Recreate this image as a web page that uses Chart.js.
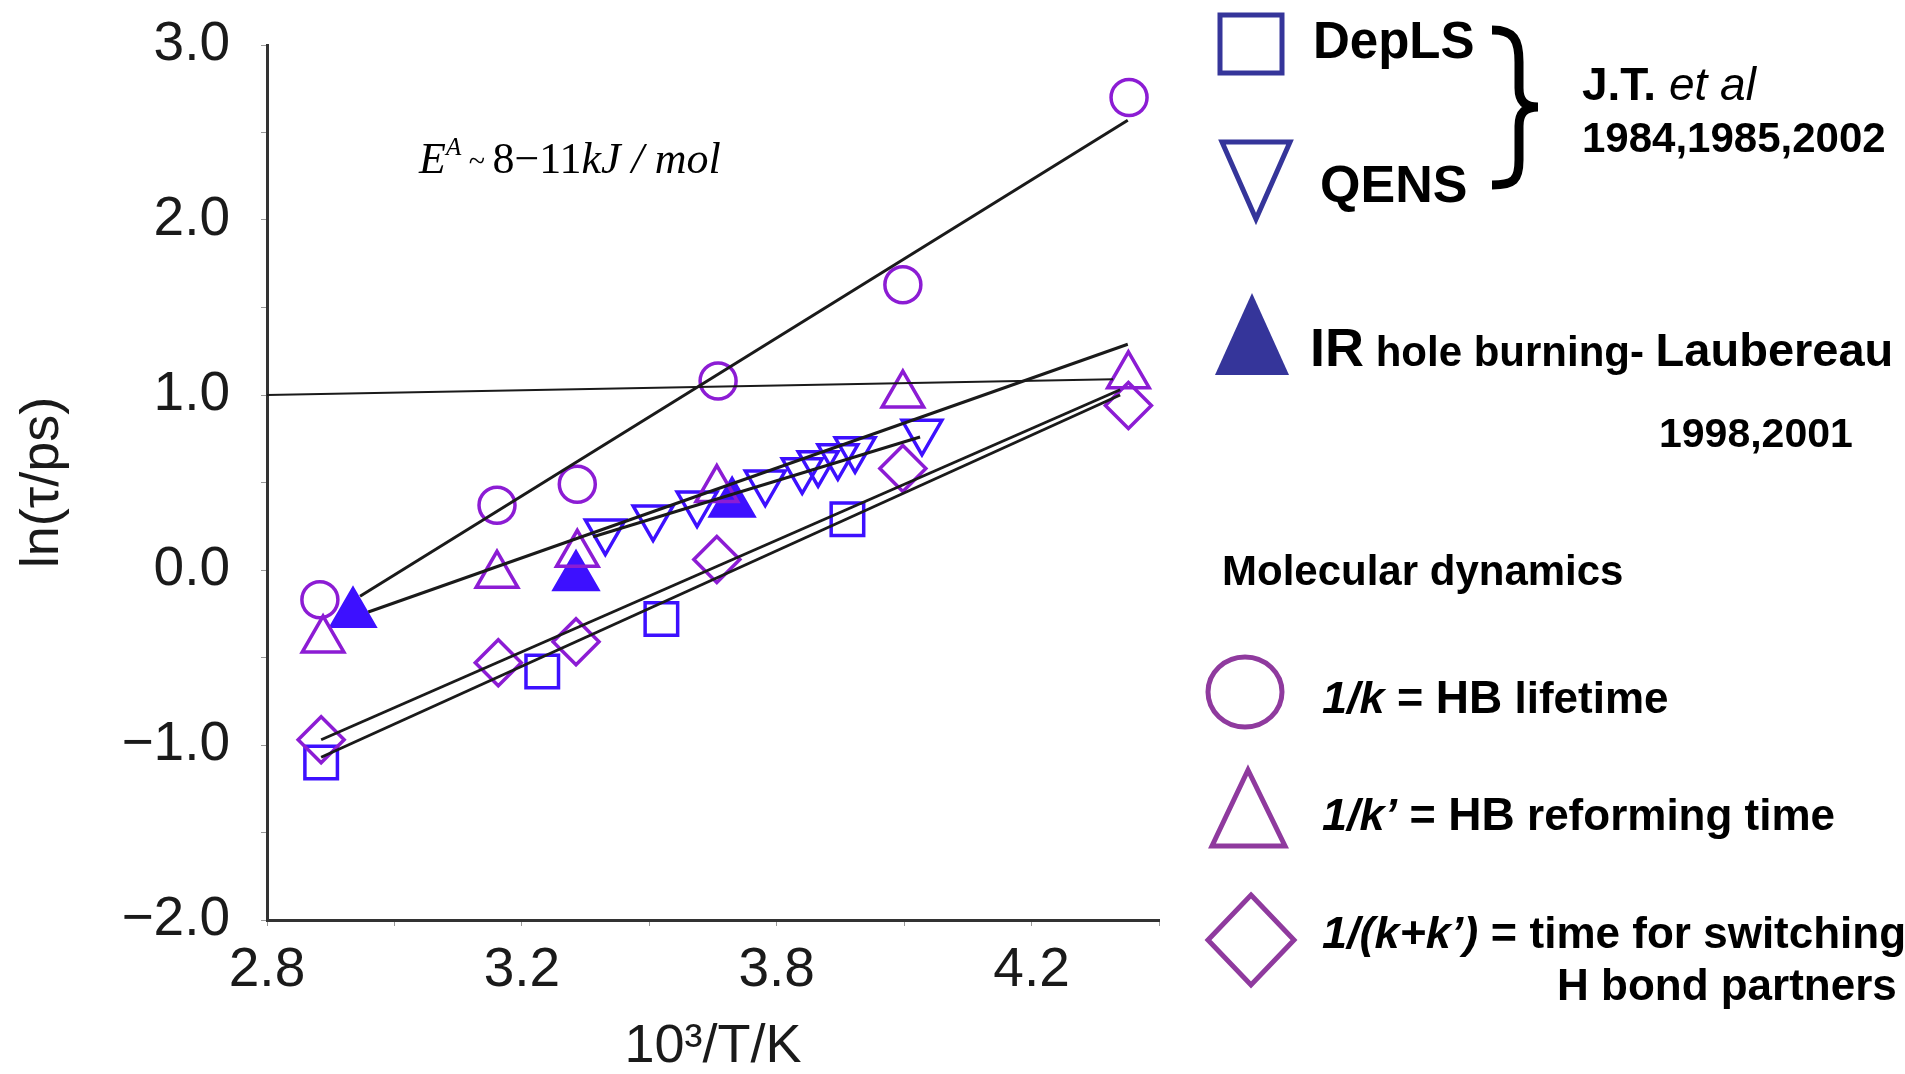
<!DOCTYPE html>
<html>
<head>
<meta charset="utf-8">
<script src="https://cdn.jsdelivr.net/npm/chart.js@4.4.1/dist/chart.umd.min.js"></script>
<style>
  html, body { margin: 0; padding: 0; background: #fff; overflow: hidden; }
  canvas { display: block; }
</style>
</head>
<body>
<canvas id="c" width="1905" height="1074"></canvas>
<script>
// x values are positions along the printed axis (its ticks read 2.8, 3.2, 3.8, 4.2)
const xTickValues = [2.8, 3.2, 3.6, 4.0];
const xTickLabels = ['2.8', '3.2', '3.8', '4.2'];
const yTickValues = [3, 2, 1, 0, -1, -2];
const yTickLabels = ['3.0', '2.0', '1.0', '0.0', '−1.0', '−2.0'];

// molecular dynamics
const hbLifetime = [[2.883, -0.17], [3.161, 0.37], [3.287, 0.49], [3.508, 1.08], [3.798, 1.63], [4.153, 2.70]];
const hbReform   = [[2.888, -0.40], [3.161, -0.03], [3.287, 0.09], [3.506, 0.46], [3.798, 1.00], [4.152, 1.11]];
const hbSwitch   = [[2.885, -0.97], [3.163, -0.53], [3.285, -0.41], [3.506, 0.06], [3.798, 0.58], [4.152, 0.94]];
// experiments
const depls  = [[2.885, -1.10], [3.232, -0.58], [3.419, -0.28], [3.711, 0.29]];
const qens   = [[3.331, 0.22], [3.406, 0.30], [3.475, 0.38], [3.582, 0.50], [3.640, 0.57], [3.665, 0.61], [3.696, 0.65], [3.723, 0.69], [3.828, 0.79]];
const irHole = [[2.935, -0.25], [3.285, -0.04], [3.530, 0.38]];

// straight fit lines (end points)
const fitLifetime = [[2.946, -0.15], [4.151, 2.57]];
const fitReform   = [[2.959, -0.24], [4.151, 1.29]];
const fitQens     = [[3.312, 0.19], [3.825, 0.76]];
const fitSwitch   = [[2.885, -0.97], [4.139, 1.03]];
const fitDepls    = [[2.885, -1.07], [4.139, 1.00]];
const refLine     = [[2.8, 1.00], [4.128, 1.09]];

const PURPLE = '#8c1cd4';
const BLUE = '#3d10ff';
const LEG_BLUE = '#35359a';
const LEG_PURPLE = '#8f3a9e';
const SANS = "'Liberation Sans', Arial, Helvetica, sans-serif";
const SERIF = "'Liberation Serif', 'Times New Roman', serif";

const pts = arr => arr.map(p => ({ x: p[0], y: p[1] }));

function markers(label, arr, style, color, radius, extra) {
  return Object.assign({
    label, data: pts(arr), showLine: false, pointStyle: style,
    pointRadius: radius, pointBorderColor: color, pointBackgroundColor: 'rgba(0,0,0,0)',
    pointBorderWidth: 3.5, order: 2
  }, extra || {});
}
function fit(arr, width) {
  return { label: 'fit', data: pts(arr), showLine: true, pointRadius: 0, borderColor: '#1a1a1a',
           borderWidth: width || 3, fill: false, order: 1 };
}

// legend rows at the right and the note in the plot
const legendRows = [
  { x: 1313, y: 58,  parts: [['DepLS', 'bold 51px ' + SANS]] },
  { x: 1582, y: 100, parts: [['J.T. ', 'bold 46px ' + SANS], ['et al', 'italic 46px ' + SANS]] },
  { x: 1582, y: 152, parts: [['1984,1985,2002', 'bold 42px ' + SANS]] },
  { x: 1320, y: 202, parts: [['QENS', 'bold 52px ' + SANS]] },
  { x: 1310, y: 366, parts: [['IR', 'bold 54px ' + SANS], [' hole burning- ', 'bold 42px ' + SANS], ['Laubereau', 'bold 47px ' + SANS]] },
  { x: 1659, y: 447, parts: [['1998,2001', 'bold 41px ' + SANS]] },
  { x: 1222, y: 585, parts: [['Molecular dynamics', 'bold 42px ' + SANS]] },
  { x: 1322, y: 713, parts: [['1/k', 'italic bold 45px ' + SANS], [' = ', 'bold 45px ' + SANS], ['HB', 'bold 46px ' + SANS], [' lifetime', 'bold 44px ' + SANS]] },
  { x: 1322, y: 830, parts: [['1/k’', 'italic bold 45px ' + SANS], [' = ', 'bold 45px ' + SANS], ['HB', 'bold 46px ' + SANS], [' reforming time', 'bold 44px ' + SANS]] },
  { x: 1322, y: 948, parts: [['1/(k+k’)', 'italic bold 45px ' + SANS], [' = ', 'bold 45px ' + SANS], ['time for switching', 'bold 44px ' + SANS]] },
  { x: 1557, y: 1000, parts: [['H bond partners', 'bold 44px ' + SANS]] },
  { x: 419, y: 173, parts: [['E', 'italic 44px ' + SERIF], ['A', 'italic 25px ' + SERIF, -18], [' ~ ', '30px ' + SERIF, -2], ['8−11', '44px ' + SERIF], ['kJ', 'italic 44px ' + SERIF], [' / ', 'italic 44px ' + SERIF], ['mol', 'italic 44px ' + SERIF]] }
];

function drawRun(ctx, row) {
  let x = row.x;
  row.parts.forEach(p => {
    ctx.font = p[1];
    ctx.fillText(p[0], x, row.y + (p[2] || 0));
    x += ctx.measureText(p[0]).width;
  });
}

const sideLegend = {
  id: 'sideLegend',
  afterDraw(chart) {
    const ctx = chart.ctx;
    ctx.save();
    ctx.lineWidth = 5;
    ctx.lineJoin = 'miter';

    ctx.strokeStyle = LEG_BLUE;
    ctx.strokeRect(1220, 15, 62, 58);
    ctx.beginPath();
    ctx.moveTo(1222, 142); ctx.lineTo(1290, 142); ctx.lineTo(1256, 219); ctx.closePath();
    ctx.stroke();
    ctx.fillStyle = LEG_BLUE;
    ctx.beginPath();
    ctx.moveTo(1252, 293); ctx.lineTo(1289, 375); ctx.lineTo(1215, 375); ctx.closePath();
    ctx.fill();

    ctx.strokeStyle = LEG_PURPLE;
    ctx.beginPath();
    ctx.ellipse(1245, 692, 37, 35, 0, 0, Math.PI * 2);
    ctx.stroke();
    ctx.beginPath();
    ctx.moveTo(1248, 770); ctx.lineTo(1285, 846); ctx.lineTo(1212, 846); ctx.closePath();
    ctx.stroke();
    ctx.beginPath();
    ctx.moveTo(1251, 895); ctx.lineTo(1294, 940); ctx.lineTo(1251, 985); ctx.lineTo(1208, 940); ctx.closePath();
    ctx.stroke();

    // brace
    ctx.strokeStyle = '#000';
    ctx.lineWidth = 9;
    ctx.beginPath();
    ctx.moveTo(1492, 30);
    ctx.bezierCurveTo(1514, 30, 1519, 40, 1519, 62);
    ctx.lineTo(1519, 88);
    ctx.bezierCurveTo(1519, 100, 1524, 107, 1538, 107);
    ctx.bezierCurveTo(1524, 107, 1519, 114, 1519, 126);
    ctx.lineTo(1519, 160);
    ctx.bezierCurveTo(1519, 180, 1514, 185, 1492, 185);
    ctx.stroke();

    ctx.fillStyle = '#000';
    ctx.textBaseline = 'alphabetic';
    ctx.textAlign = 'left';
    legendRows.forEach(r => drawRun(ctx, r));
    ctx.restore();
  }
};

new Chart(document.getElementById('c'), {
  type: 'scatter',
  data: {
    datasets: [
      fit(fitLifetime), fit(fitReform), fit(fitQens), fit(fitSwitch), fit(fitDepls), fit(refLine, 2),
      markers('1/k', hbLifetime, 'circle', PURPLE, 18),
      markers("1/k'", hbReform, 'triangle', PURPLE, 24),
      markers("1/(k+k')", hbSwitch, 'rectRot', PURPLE, 23),
      markers('DepLS', depls, 'rect', BLUE, 23),
      markers('QENS', qens, 'triangle', BLUE, 23, { pointRotation: 180 }),
      markers('IR hole burning', irHole, 'triangle', BLUE, 25, { pointBackgroundColor: BLUE })
    ]
  },
  options: {
    responsive: false,
    animation: false,
    devicePixelRatio: 1,
    layout: { padding: { left: 0, top: 45, right: 746, bottom: 0 } },
    plugins: { legend: { display: false }, tooltip: { enabled: false } },
    scales: {
      x: {
        type: 'linear', min: 2.8, max: 4.2,
        afterFit: s => { s.height = 154; },
        border: { display: true, color: '#333', width: 3 },
        grid: { drawOnChartArea: false, drawTicks: true, tickLength: 6, color: '#999' },
        ticks: {
          stepSize: 0.2, autoSkip: false, maxRotation: 0, padding: 12,
          color: '#1a1a1a', font: { family: SANS, size: 55 },
          callback: v => {
            const i = xTickValues.findIndex(t => Math.abs(t - v) < 1e-6);
            return i >= 0 ? xTickLabels[i] : '';
          }
        },
        title: {
          display: true, text: '10³/T/K', color: '#1a1a1a',
          font: { family: SANS, size: 54, lineHeight: 1 }, padding: 0
        }
      },
      y: {
        type: 'linear', min: -2, max: 3,
        afterFit: s => { s.width = 267; },
        border: { display: true, color: '#333', width: 3 },
        grid: { drawOnChartArea: false, drawTicks: true, tickLength: 6, color: '#999' },
        ticks: {
          stepSize: 0.5, autoSkip: false, padding: 31,
          color: '#1a1a1a', font: { family: SANS, size: 55, lineHeight: 0.5 },
          callback: v => {
            const i = yTickValues.findIndex(t => Math.abs(t - v) < 1e-6);
            return i >= 0 ? yTickLabels[i] : '';
          }
        },
        title: {
          display: true, text: 'ln(τ/ps)', color: '#1a1a1a',
          font: { family: SANS, size: 54, lineHeight: 1.2 }, padding: { top: 11, bottom: 0 }
        }
      }
    }
  },
  plugins: [sideLegend]
});
</script>
</body>
</html>
